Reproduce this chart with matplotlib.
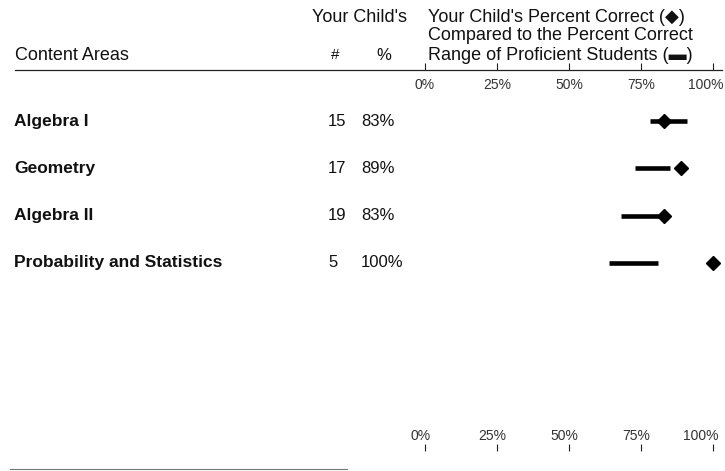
import numpy as np
import matplotlib
matplotlib.use("Agg")
import matplotlib.pyplot as plt
from matplotlib.lines import Line2D
from matplotlib.transforms import blended_transform_factory

# donnees du rapport
areas = ["Algebra I", "Geometry", "Algebra II", "Probability and Statistics"]
n_items = [15, 17, 19, 5]
child_pct = [83, 89, 83, 100]
prof_low = [78, 73, 68, 64]
prof_high = [91, 85, 83, 81]
ticks = [0, 25, 50, 75, 100]

plt.rcParams['font.family'] = ['Liberation Sans', 'DejaVu Sans']

W, H = 725, 471
fig = plt.figure(figsize=(W / 100, H / 100), dpi=100)


def fx(x):  # pixel -> fraction de la figure
    return x / W


def fy(y):
    return 1 - y / H


# axe du graphique (0% a 425px, 100% a 713px)
top_px, bot_px = 70, 444
ax = fig.add_axes([fx(425), fy(bot_px), fx(713) - fx(425), fy(top_px) - fy(bot_px)])
ax.set_xlim(0, 100)
rows = np.arange(len(areas))
step = 47.3
ax.set_ylim(3 + (bot_px - 263) / step, -(121 - top_px) / step)
for s in ax.spines.values():
    s.set_visible(False)
ax.set_yticks([])
ax.set_xticks(ticks)
ax.tick_params(axis='x', top=True, bottom=True, labeltop=False, labelbottom=False,
               direction='out', length=5, width=0.8, color='#222')
ax.patch.set_alpha(0)

# intervalle des eleves competents + point de l'eleve
ax.hlines(rows, prof_low, prof_high, color='black', lw=3.3)
ax.plot(child_pct, rows, 'D', color='black', ms=7.5, clip_on=False)

# etiquettes des graduations en haut et en bas
tr = blended_transform_factory(ax.transData, ax.transAxes)
for t in ticks:
    ha = 'right' if t == 100 else 'center'
    xx = 103.5 if t == 100 else t
    ax.text(xx, (bot_px - 85) / (bot_px - top_px), f"{t}%", transform=tr,
            ha=ha, va='center', fontsize=10, color='#333')
    ax.text(xx - 1.5, (bot_px - 436) / (bot_px - top_px), f"{t}%", transform=tr,
            ha=ha, va='center', fontsize=10, color='#333')

# lignes horizontales
fig.add_artist(Line2D([fx(15), fx(722)], [fy(top_px), fy(top_px)], color='#222', lw=0.9))
fig.add_artist(Line2D([fx(10), fx(347)], [fy(469), fy(469)], color='#777', lw=0.8))

# en-tetes
fs = 13
fig.text(fx(312), fy(17), "Your Child's", fontsize=fs, va='center', color='#111')
fig.text(fx(15), fy(55), "Content Areas", fontsize=fs, va='center', color='#111')
fig.text(fx(335), fy(55), "#", fontsize=fs - 2, va='center', ha='center', color='#111')
fig.text(fx(384), fy(55), "%", fontsize=fs - 1, va='center', ha='center', color='#111')
fig.text(fx(428), fy(17), "Your Child's Percent Correct (\u25c6)", fontsize=fs, va='center', color='#111')
fig.text(fx(428), fy(36), "Compared to the Percent Correct", fontsize=fs, va='center', color='#111')
fig.text(fx(428), fy(55), "Range of Proficient Students (\u25ac)", fontsize=fs, va='center', color='#111')

# lignes du tableau
tl = blended_transform_factory(fig.transFigure, ax.transData)
for i, name in enumerate(areas):
    fig.text(fx(14), rows[i], name, transform=tl, fontsize=12.5, fontweight='bold',
             va='center', color='#111')
    fig.text(fx(328), rows[i], str(n_items[i]), transform=tl, fontsize=12,
             va='center', color='#111')
    fig.text(fx(361), rows[i], f"{child_pct[i]}%", transform=tl, fontsize=12,
             va='center', color='#111')

fig.savefig("out.png", dpi=100)
